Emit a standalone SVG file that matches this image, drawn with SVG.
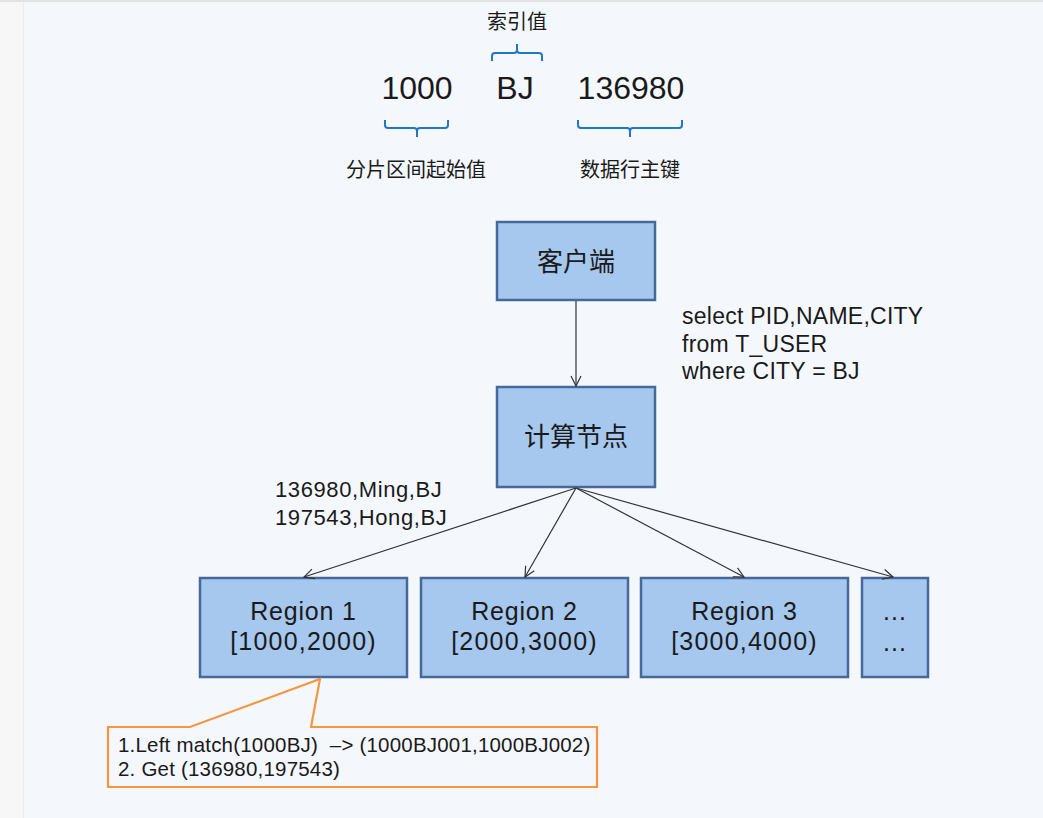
<svg xmlns="http://www.w3.org/2000/svg" width="1043" height="818" viewBox="0 0 1043 818">
<style>
text{font-family:"Liberation Sans","Noto Sans CJK SC",Arial,sans-serif;fill:#1a1a1a}
.cjk{font-family:"Noto Sans CJK SC","Liberation Sans",sans-serif}
.box{fill:#a6c7ee;stroke:#46699a;stroke-width:2.5}
.brace{fill:none;stroke:#2277c4;stroke-width:2;stroke-linejoin:round}
.conn{stroke:#333;stroke-width:1.2;fill:none}
.mid{text-anchor:middle}
</style>
<defs>
<marker id="ah" viewBox="0 0 12 12" refX="11" refY="6" markerWidth="12" markerHeight="12" markerUnits="userSpaceOnUse" orient="auto">
<path d="M1,1 L11,6 L1,11" fill="none" stroke="#333" stroke-width="1.2"/>
</marker>
</defs>
<rect x="0" y="0" width="1043" height="818" fill="#f4f7fc"/>
<rect x="0" y="0" width="23" height="818" fill="#f7f7f7"/>
<line x1="23.5" y1="0" x2="23.5" y2="818" stroke="#ececec" stroke-width="1"/>
<line x1="0" y1="1" x2="1043" y2="1" stroke="#e3e3e3" stroke-width="2"/>

<g id="key-legend">
<text class="cjk mid" x="517" y="29" font-size="20">索引值</text>
<path class="brace" d="M492,61 L492,56 Q492,53 495,53 L514,53 Q517,53 517,50 L517,44 M517,50 Q517,53 520,53 L539,53 Q542,53 542,56 L542,61"/>
<text class="mid" x="417" y="99" font-size="32">1000</text>
<text class="mid" x="515" y="99" font-size="32">BJ</text>
<text class="mid" x="631" y="99" font-size="32">136980</text>
<path class="brace" d="M385,120 L385,125 Q385,128 388,128 L414,128 Q417,128 417,131 L417,137 M417,131 Q417,128 420,128 L445,128 Q448,128 448,125 L448,120"/>
<path class="brace" d="M578,120 L578,125 Q578,128 581,128 L627,128 Q630,128 630,131 L630,137 M630,131 Q630,128 633,128 L679,128 Q682,128 682,125 L682,120"/>
<text class="cjk mid" x="416" y="177" font-size="20">分片区间起始值</text>
<text class="cjk mid" x="630" y="177" font-size="20">数据行主键</text>
</g>

<g id="client">
<rect class="box" x="497" y="222" width="158" height="78"/>
<text class="cjk mid" x="576" y="271" font-size="26">客户端</text>
</g>

<g id="sql-label">
<text x="682" y="324" font-size="23" letter-spacing="0.25">select PID,NAME,CITY</text>
<text x="682" y="352" font-size="23" letter-spacing="0.25">from T_USER</text>
<text x="682" y="379" font-size="23" letter-spacing="0.25">where CITY = BJ</text>
</g>

<g id="compute">
<rect class="box" x="497" y="387" width="158" height="100"/>
<text class="cjk mid" x="576" y="446" font-size="26">计算节点</text>
</g>

<g id="result-label">
<text x="275" y="497" font-size="22" letter-spacing="0.6">136980,Ming,BJ</text>
<text x="275" y="525" font-size="22" letter-spacing="0.6">197543,Hong,BJ</text>
</g>

<g id="region1">
<rect class="box" x="200" y="578" width="207" height="99"/>
<text class="mid" x="303.5" y="620" font-size="25" letter-spacing="0.8">Region 1</text>
<text class="mid" x="303.5" y="650" font-size="25" letter-spacing="1.2">[1000,2000)</text>
</g>
<g id="region2">
<rect class="box" x="421" y="578" width="207" height="99"/>
<text class="mid" x="524.5" y="620" font-size="25" letter-spacing="0.8">Region 2</text>
<text class="mid" x="524.5" y="650" font-size="25" letter-spacing="1.2">[2000,3000)</text>
</g>
<g id="region3">
<rect class="box" x="641" y="578" width="207" height="99"/>
<text class="mid" x="744.5" y="620" font-size="25" letter-spacing="0.8">Region 3</text>
<text class="mid" x="744.5" y="650" font-size="25" letter-spacing="1.2">[3000,4000)</text>
</g>
<g id="region-more">
<rect class="box" x="862" y="578" width="66" height="99"/>
<text class="mid" x="895" y="620" font-size="25" letter-spacing="1">...</text>
<text class="mid" x="895" y="651" font-size="25" letter-spacing="1">...</text>
</g>

<g id="connectors">
<line class="conn" x1="576" y1="301" x2="576" y2="386" marker-end="url(#ah)"/>
<line class="conn" x1="576" y1="488" x2="304" y2="577" marker-end="url(#ah)"/>
<line class="conn" x1="576" y1="488" x2="525" y2="577" marker-end="url(#ah)"/>
<line class="conn" x1="576" y1="488" x2="744" y2="577" marker-end="url(#ah)"/>
<line class="conn" x1="576" y1="488" x2="893" y2="577" marker-end="url(#ah)"/>
</g>

<g id="callout">
<path d="M108,727 L190,727 L320,679 L311,727 L597,727 L597,787 L108,787 Z" fill="#f4f7fc" stroke="#f5973f" stroke-width="2.2" stroke-linejoin="miter"/>
<text x="118" y="752" font-size="20.5" letter-spacing="0.2" xml:space="preserve">1.Left match(1000BJ)  –&gt; (1000BJ001,1000BJ002)</text>
<text x="118" y="776" font-size="20.5" letter-spacing="0.2">2. Get (136980,197543)</text>
</g>
</svg>
